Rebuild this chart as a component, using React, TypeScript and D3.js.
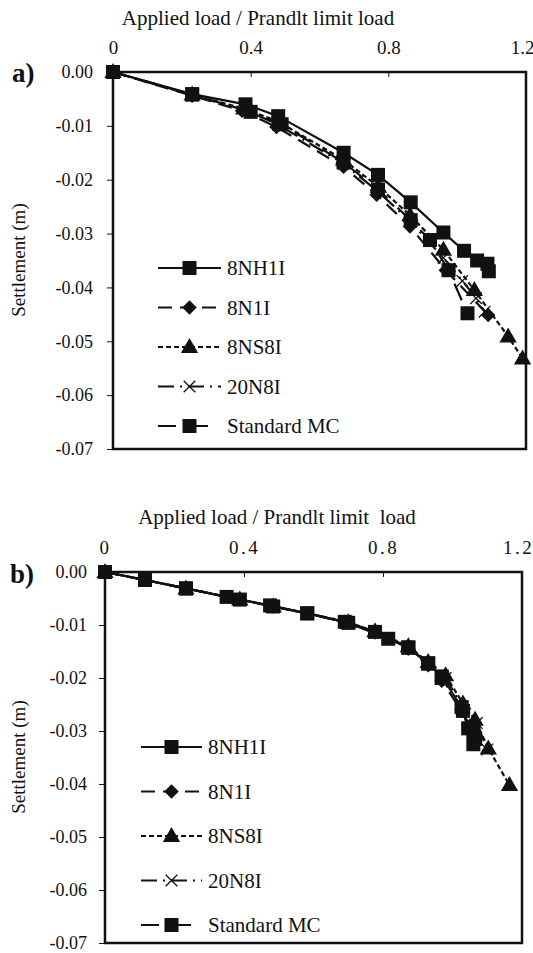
import React, { useEffect, useRef } from "react";
import * as d3 from "d3";

const W = 533;
const H = 953;

// panel a) values
const aLoad8NH1I = [0, 0.23, 0.385, 0.48, 0.67, 0.77, 0.865, 0.96, 1.02, 1.058, 1.088, 1.092];
const aSet8NH1I = [0, -0.0041, -0.006, -0.0082, -0.015, -0.0191, -0.0242, -0.0298, -0.0332, -0.035, -0.0356, -0.037];
const aLoad8N1I = [0, 0.23, 0.375, 0.475, 0.67, 0.766, 0.863, 0.967, 1.09];
const aSet8N1I = [0, -0.0044, -0.0072, -0.0102, -0.0176, -0.0228, -0.0287, -0.0368, -0.0451];
const aLoad8NS8I = [0, 0.23, 0.38, 0.48, 0.67, 0.771, 0.863, 0.96, 1.05, 1.148, 1.19];
const aSet8NS8I = [0, -0.0042, -0.0068, -0.0092, -0.0163, -0.0213, -0.0266, -0.033, -0.0405, -0.0491, -0.0532];
const aLoad20N8I = [0, 0.23, 0.39, 0.48, 0.67, 0.77, 0.865, 0.96, 1.015, 1.055, 1.08];
const aSet20N8I = [0, -0.0043, -0.0072, -0.0098, -0.017, -0.0222, -0.0278, -0.0345, -0.0388, -0.042, -0.0445];
const aLoadMC = [0, 0.23, 0.4, 0.49, 0.67, 0.77, 0.865, 0.921, 0.975, 1.03];
const aSetMC = [0, -0.0042, -0.0074, -0.0097, -0.0168, -0.0218, -0.0275, -0.0312, -0.0368, -0.0448];

// panel b)
const bLoad8NH1I = [0, 0.115, 0.233, 0.35, 0.475, 0.582, 0.69, 0.777, 0.873, 0.93, 0.969, 1.026, 1.045, 1.06];
const bSet8NH1I = [0, -0.0015, -0.0031, -0.0047, -0.0063, -0.0078, -0.0094, -0.0113, -0.0142, -0.0172, -0.0197, -0.0255, -0.0295, -0.0325];
const bLoad8N1I = [0, 0.233, 0.388, 0.484, 0.69, 0.777, 0.873, 0.93, 0.969, 1.026, 1.05, 1.065];
const bSet8N1I = [0, -0.0031, -0.0052, -0.0065, -0.0094, -0.0114, -0.0145, -0.0176, -0.0205, -0.0262, -0.029, -0.032];
const bLoad8NS8I = [0, 0.233, 0.388, 0.484, 0.7, 0.777, 0.873, 0.93, 0.98, 1.03, 1.065, 1.103, 1.164];
const bSet8NS8I = [0, -0.0031, -0.0052, -0.0065, -0.0095, -0.0112, -0.014, -0.017, -0.0195, -0.0248, -0.0279, -0.0333, -0.0402];
const bLoad20N8I = [0, 0.233, 0.388, 0.484, 0.7, 0.777, 0.873, 0.93, 0.98, 1.03, 1.07, 1.1];
const bSet20N8I = [0, -0.0031, -0.0052, -0.0065, -0.0094, -0.0113, -0.0142, -0.0172, -0.02, -0.0255, -0.0285, -0.0335];
const bLoadMC = [0, 0.115, 0.233, 0.388, 0.484, 0.582, 0.7, 0.815, 0.873, 0.93, 0.969, 1.03, 1.06, 1.065];
const bSetMC = [0, -0.0015, -0.0031, -0.0052, -0.0065, -0.0078, -0.0096, -0.0126, -0.0143, -0.0173, -0.02, -0.0262, -0.03, -0.0315];

const seriesNames = ["8NH1I", "8N1I", "8NS8I", "20N8I", "Standard MC"];
const xTicks = [0, 0.4, 0.8, 1.2];
const yTicks = [0, -0.01, -0.02, -0.03, -0.04, -0.05, -0.06, -0.07];

const styles: Record<string, { dash: string | null; marker: string }> = {
  "8NH1I": { dash: null, marker: "square" },
  "8N1I": { dash: "14,8", marker: "diamond" },
  "8NS8I": { dash: "5,3", marker: "triangle" },
  "20N8I": { dash: "16,6,2,6", marker: "cross" },
  "Standard MC": { dash: "18,14", marker: "square" },
};

const FONT = "Liberation Serif, Times New Roman, serif";
const INK = "#111";

const zip = (xs: number[], ys: number[]) => xs.map((x, i) => [x, ys[i]] as [number, number]);

const panels = [
  {
    label: "a)", labelX: 12, labelY: 82,
    left: 113, right: 526, top: 72, bottom: 449,
    title: "Applied load / Prandlt limit load", titleX: 258, titleY: 25, tickSpacing: 0,
    yTitleX: 25, yTitleY: 260, yPad: 14,
    legX: 158, legY: 268, legStep: 39.5, legW: 63,
    data: {
      "Standard MC": zip(aLoadMC, aSetMC),
      "20N8I": zip(aLoad20N8I, aSet20N8I),
      "8NS8I": zip(aLoad8NS8I, aSet8NS8I),
      "8N1I": zip(aLoad8N1I, aSet8N1I),
      "8NH1I": zip(aLoad8NH1I, aSet8NH1I),
    } as Record<string, [number, number][]>,
  },
  {
    label: "b)", labelX: 10, labelY: 583,
    left: 105, right: 522, top: 572, bottom: 943,
    title: "Applied load / Prandlt limit  load", titleX: 277, titleY: 524, tickSpacing: 2.5,
    yTitleX: 25, yTitleY: 757, yPad: 12,
    legX: 141, legY: 747, legStep: 44.5, legW: 61,
    data: {
      "Standard MC": zip(bLoadMC, bSetMC),
      "20N8I": zip(bLoad20N8I, bSet20N8I),
      "8NS8I": zip(bLoad8NS8I, bSet8NS8I),
      "8N1I": zip(bLoad8N1I, bSet8N1I),
      "8NH1I": zip(bLoad8NH1I, bSet8NH1I),
    } as Record<string, [number, number][]>,
  },
];

function drawMarker(g: any, kind: string, x: number, y: number) {
  if (kind === "square") {
    g.append("rect").attr("x", x - 7).attr("y", y - 7).attr("width", 14).attr("height", 14).attr("fill", INK);
  } else if (kind === "diamond") {
    g.append("path").attr("d", d3.symbol(d3.symbolSquare, 105)()).attr("transform", `translate(${x},${y}) rotate(45)`).attr("fill", INK);
  } else if (kind === "triangle") {
    g.append("path").attr("d", d3.symbol(d3.symbolTriangle, 130)()).attr("transform", `translate(${x},${y + 1})`).attr("fill", INK);
  } else {
    g.append("path").attr("d", d3.symbol(d3.symbolTimes, 90)()).attr("transform", `translate(${x},${y})`).attr("fill", "none").attr("stroke", INK).attr("stroke-width", 1.3);
  }
}

const yFmt = (v: number) => (v === 0 ? "0.00" : "-" + Math.abs(v).toFixed(2));
const xFmt = (v: number) => (v === 0 ? "0" : String(+v.toFixed(1)));

export default function App() {
  const ref = useRef<SVGSVGElement>(null);

  useEffect(() => {
    const svg = d3.select(ref.current);
    svg.selectAll("*").remove();

    panels.forEach((p) => {
      const x = d3.scaleLinear().domain([0, 1.2]).range([p.left, p.right]);
      const y = d3.scaleLinear().domain([-0.07, 0]).range([p.bottom, p.top]);
      const g = svg.append("g");

      // axes
      const gx = g.append("g").attr("transform", `translate(0,${p.top})`)
        .call(d3.axisTop(x).tickValues(xTicks).tickSizeInner(-5).tickSizeOuter(0).tickPadding(18).tickFormat(xFmt as any));
      gx.select(".domain").remove();
      gx.selectAll("text").attr("font-size", 19).attr("font-family", FONT).attr("fill", INK)
        .attr("letter-spacing", p.tickSpacing)
        .attr("dx", (d: number) => (d === 1.2 ? -4 : 0));
      gx.selectAll("line").attr("stroke", INK);

      const gy = g.append("g").attr("transform", `translate(${p.left},0)`)
        .call(d3.axisLeft(y).tickValues(yTicks).tickSizeInner(6).tickSizeOuter(0).tickPadding(p.yPad).tickFormat(yFmt as any));
      gy.select(".domain").remove();
      gy.selectAll("text").attr("font-size", 18).attr("font-family", FONT).attr("fill", INK);
      gy.selectAll("line").attr("stroke", INK);

      g.append("rect").attr("x", p.left).attr("y", p.top)
        .attr("width", p.right - p.left).attr("height", p.bottom - p.top)
        .attr("fill", "none").attr("stroke", INK).attr("stroke-width", 2.5);

      // titles
      g.append("text").attr("x", p.titleX).attr("y", p.titleY).attr("text-anchor", "middle")
        .attr("font-family", FONT).attr("font-size", 21).attr("fill", INK)
        .style("white-space", "pre").text(p.title);
      g.append("text").attr("transform", `translate(${p.yTitleX},${p.yTitleY}) rotate(-90)`)
        .attr("text-anchor", "middle").attr("font-family", FONT).attr("font-size", 19).attr("fill", INK)
        .text("Settlement (m)");
      g.append("text").attr("x", p.labelX).attr("y", p.labelY)
        .attr("font-family", FONT).attr("font-size", 27).attr("font-weight", "bold").attr("fill", INK)
        .text(p.label);

      const line = d3.line<[number, number]>().x((d) => x(d[0])).y((d) => y(d[1]));

      Object.keys(p.data).forEach((name) => {
        const st = styles[name];
        g.append("path").attr("d", line(p.data[name])).attr("fill", "none")
          .attr("stroke", INK).attr("stroke-width", 2.2)
          .attr("stroke-dasharray", st.dash);
      });
      Object.keys(p.data).forEach((name) => {
        const st = styles[name];
        p.data[name].forEach((d) => drawMarker(g, st.marker, x(d[0]), y(d[1])));
      });

      // legend
      seriesNames.forEach((name, i) => {
        const st = styles[name];
        const ly = p.legY + i * p.legStep;
        g.append("line").attr("x1", p.legX).attr("x2", p.legX + p.legW).attr("y1", ly).attr("y2", ly)
          .attr("stroke", INK).attr("stroke-width", 2).attr("stroke-dasharray", st.dash);
        drawMarker(g, st.marker, p.legX + p.legW / 2, ly);
        g.append("text").attr("x", p.legX + p.legW + 6).attr("y", ly + 7)
          .attr("font-family", FONT).attr("font-size", 21).attr("fill", INK).text(name);
      });
    });
  }, []);

  return (
    <svg ref={ref} width={W} height={H} style={{ position: "absolute", left: 0, top: 0, background: "#fff", fontFamily: FONT }} />
  );
}
